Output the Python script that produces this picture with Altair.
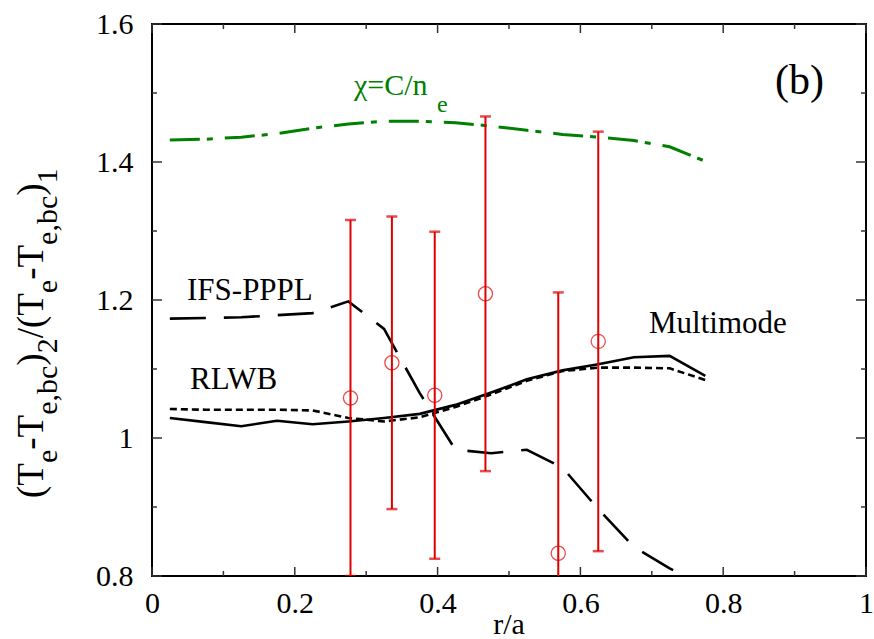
import altair as alt
import pandas as pd

# ---------------- data ----------------
r_model = [0.025, 0.075, 0.125, 0.175, 0.225, 0.275, 0.325, 0.375,
           0.425, 0.475, 0.525, 0.575, 0.625, 0.675, 0.725, 0.775]
multimode = [1.029, 1.023, 1.017, 1.025, 1.020, 1.024, 1.029, 1.035,
             1.048, 1.066, 1.085, 1.098, 1.107, 1.117, 1.119, 1.090]
rlwb = [1.042, 1.041, 1.041, 1.041, 1.040, 1.029, 1.024, 1.030,
        1.045, 1.063, 1.083, 1.097, 1.102, 1.102, 1.101, 1.084]
ifs_pppl = [1.173, 1.174, 1.175, 1.178, 1.181, 1.198, 1.158, 1.065,
            0.983, 0.978, 0.983, 0.957, 0.897, 0.842, 0.811, 0.785]
chi_c_ne = [1.432, 1.433, 1.436, 1.441, 1.449, 1.455, 1.459, 1.459,
            1.457, 1.452, 1.446, 1.440, 1.436, 1.431, 1.422, 1.401]

exp_r = [0.278, 0.336, 0.396, 0.467, 0.569, 0.625]
exp_val = [1.058, 1.109, 1.062, 1.209, 0.833, 1.140]
exp_err = [0.258, 0.212, 0.237, 0.257, 0.378, 0.304]

x_major = [0, 0.2, 0.4, 0.6, 0.8, 1.0]
x_minor = [0.1, 0.3, 0.5, 0.7, 0.9]
y_major = [0.8, 1.0, 1.2, 1.4, 1.6]
y_minor = [0.9, 1.1, 1.3, 1.5]

# y title pieces: (text, is_subscript)
ytitle_pieces = [("(T", False), ("e", True), ("-T", False), ("e,bc", True),
                 (")", False), ("2", True), ("/(T", False), ("e", True),
                 ("-T", False), ("e,bc", True), (")", False), ("1", True)]

# ---------------- style ----------------
W, H = 714, 552
FONT = "Liberation Serif"
RED = "#e00000"
GREEN = "#008000"
TICK = "#333333"

sx = alt.Scale(domain=[0, 1], nice=False, zero=False)
sy = alt.Scale(domain=[0.8, 1.6], nice=False, zero=False)

x_axis = alt.Axis(values=x_major, format="~g", ticks=False, tickSize=0, domain=False,
                  grid=False, labelFont=FONT, labelFontSize=30, labelColor="black",
                  labelPadding=12, title=None, labelFlush=False)
y_axis = alt.Axis(values=y_major, format="~g", ticks=False, tickSize=0, domain=False,
                  grid=False, labelFont=FONT, labelFontSize=30, labelColor="black",
                  labelPadding=19, title=None, labelFlush=False)

df_model = pd.DataFrame({"r": r_model, "mm": multimode, "rl": rlwb,
                         "ifs": ifs_pppl, "chi": chi_c_ne})


def model_line(field, color, dash, width):
    kw = dict(color=color, strokeWidth=width, clip=True)
    if dash:
        kw["strokeDash"] = dash
    return alt.Chart(df_model).mark_line(**kw).encode(
        x=alt.X("r:Q", scale=sx, axis=x_axis),
        y=alt.Y(f"{field}:Q", scale=sy, axis=y_axis),
    )


lines = [
    model_line("chi", GREEN, [30, 7, 6, 12], 3),
    model_line("ifs", "black", [36, 18], 2.6),
    model_line("rl", "black", [7, 4], 2.6),
    model_line("mm", "black", None, 2.6),
]

df_exp = pd.DataFrame({"r": exp_r, "val": exp_val, "err": exp_err})
base_exp = alt.Chart(df_exp).transform_calculate(
    lo="datum.val - datum.err", hi="datum.val + datum.err")
xe = alt.X("r:Q", scale=sx, axis=x_axis)
bars = base_exp.mark_rule(color=RED, strokeWidth=2, clip=True).encode(
    x=xe, y=alt.Y("lo:Q", scale=sy, axis=y_axis), y2="hi:Q")
cap_hi = base_exp.mark_tick(color=RED, thickness=2.5, size=11, orient="horizontal",
                            clip=True).encode(x=xe, y=alt.Y("hi:Q", scale=sy, axis=y_axis))
cap_lo = base_exp.mark_tick(color=RED, thickness=2.5, size=11, orient="horizontal",
                            clip=True).encode(x=xe, y=alt.Y("lo:Q", scale=sy, axis=y_axis))
pts = base_exp.mark_point(shape="circle", filled=False, color=RED, size=200,
                          strokeWidth=1.3, clip=True).encode(
    x=xe, y=alt.Y("val:Q", scale=sy, axis=y_axis))


def xticks(vals, length):
    d = pd.DataFrame({"v": vals})
    b = alt.Chart(d).mark_rule(color=TICK, strokeWidth=1.5)
    xx = alt.X("v:Q", scale=sx, axis=x_axis)
    return [b.encode(x=xx, y=alt.value(H), y2=alt.value(H - length)),
            b.encode(x=xx, y=alt.value(0), y2=alt.value(length))]


def yticks(vals, length):
    d = pd.DataFrame({"v": vals})
    b = alt.Chart(d).mark_rule(color=TICK, strokeWidth=1.5)
    yy = alt.Y("v:Q", scale=sy, axis=y_axis)
    return [b.encode(y=yy, x=alt.value(0), x2=alt.value(length)),
            b.encode(y=yy, x=alt.value(W), x2=alt.value(W - length))]


ticks = xticks(x_major, 9) + xticks(x_minor, 5) + yticks(y_major, 10) + yticks(y_minor, 5)


def label(text, x, y, size, color="black", align="left", angle=None):
    kw = dict(font=FONT, fontSize=size, color=color, align=align, baseline="alphabetic")
    if angle is not None:
        kw["angle"] = angle
    return alt.Chart(pd.DataFrame({"t": [text]})).mark_text(**kw).encode(
        x=alt.value(x), y=alt.value(y), text="t:N")


texts = [
    label("IFS-PPPL", 35, 276, 31),
    label("RLWB", 38, 365, 31),
    label("Multimode", 497, 309, 31),
    label("(b)", 623, 70, 42),
    label("r/a", 357, 610, 30, align="center"),
    label("\u03c7=C/n", 202, 71, 30, color=GREEN),
    label("e", 285, 88, 24, color=GREEN),
]

# y-axis title assembled from pieces (rotated, reading upward)
CW = {"(": 0.333, ")": 0.333, "T": 0.611, "e": 0.444, "-": 0.333, ",": 0.25,
      "b": 0.5, "c": 0.444, "2": 0.5, "1": 0.5, "/": 0.278}
MAIN, SUB = 37, 30
pos = 474.0
for txt, sub in ytitle_pieces:
    fs = SUB if sub else MAIN
    texts.append(label(txt, -95 if sub else -109, pos, fs, angle=270))
    pos -= sum(CW[c] for c in txt) * fs

chart = alt.layer(*lines, bars, cap_hi, cap_lo, pts, *ticks, *texts).properties(
    width=W, height=H,
    padding={"left": 152, "top": 24, "right": 8, "bottom": 63},
    autosize=alt.AutoSizeParams(type="none"),
    background="white",
).configure_view(stroke="black", strokeWidth=2)

chart.save("out.html", embed_options={"renderer": "svg", "actions": False})
